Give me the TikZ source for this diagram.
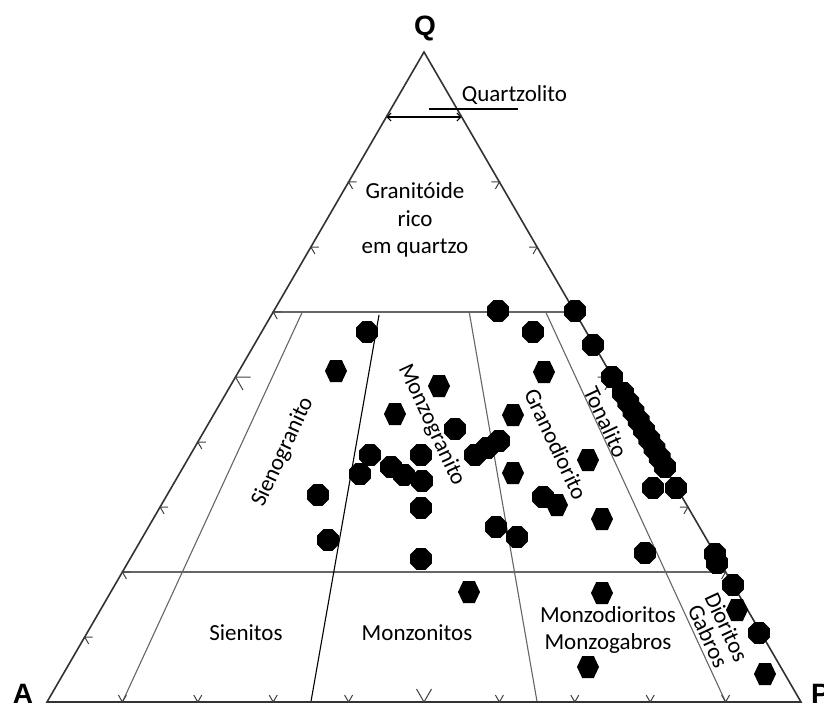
\documentclass[tikz,border=0pt]{standalone}
\usepackage{fontspec}
\setmainfont{Carlito}
\newfontfamily\labfont{Liberation Sans}
\usetikzlibrary{calc,arrows.meta}
\begin{document}
\begin{tikzpicture}[x=1pt,y=-1pt,
  edge/.style={draw=black!80,line width=1.6pt,line join=miter},
  divline/.style={draw=black!60,line width=1.1pt},
  blkline/.style={draw=black,line width=1.1pt},
  tickline/.style={draw=black!75,line width=1pt},
  lbl/.style={inner sep=0pt,font=\fontsize{23}{27}\selectfont},
  rlbl/.style={lbl,align=center,font=\fontsize{23}{20.5}\selectfont},
  vtx/.style={inner sep=0pt,font=\labfont\bfseries\fontsize{28}{28}\selectfont},
  octm/.pic={\fill (22.5:11.7) -- (67.5:11.7) -- (112.5:11.7) -- (157.5:11.7) -- (202.5:11.7) -- (247.5:11.7) -- (292.5:11.7) -- (337.5:11.7) -- cycle;},
  hexm/.pic={\fill (-11,0) -- (-5.8,-11) -- (5.8,-11) -- (11,0) -- (5.8,11) -- (-5.8,11) -- cycle;}
]
\useasboundingbox (0,0) rectangle (824,708);
\fill[white] (0,0) rectangle (824,708);

\coordinate (A) at (47,702);
\coordinate (P) at (801,702);
\coordinate (Q) at (424,52);

% field boundaries
\draw[divline] ($(A)!0.6!(Q)$) -- ($(P)!0.6!(Q)$);
\draw[divline] ($(A)!0.2!(Q)$) -- ($(P)!0.2!(Q)$);
\draw[blkline,{Straight Barb[length=4pt,width=8pt]}-{Straight Barb[length=4pt,width=8pt]}] ($(A)!0.9!(Q)$) -- ($(P)!0.9!(Q)$);
\coordinate (t10) at (302.3,312);  \coordinate (b10) at (122.4,702);
\coordinate (t35) at (378.8,312);  \coordinate (b35) at (310.9,702);
\coordinate (t65) at (469.2,312);  \coordinate (b65) at (537.1,702);
\coordinate (t90) at (545.7,312);  \coordinate (b90) at (725.6,702);
\draw[divline] (t10) -- (b10);
\draw[blkline] (379,315) coordinate (t35b) -- (b35);
\draw[divline] (t65) -- (b65);
\draw[divline] (t90) -- (b90);

% triangle
\draw[edge] (A) -- (Q) -- (P) -- cycle;

% ticks
\foreach \q in {0.1,0.2,0.3,0.4,0.6,0.7,0.8}{
  \draw[tickline] ($(A)!\q!(Q)$) +(8,0) -- +(0,0) -- +(4,6.93);
  \draw[tickline] ($(P)!\q!(Q)$) +(-8,0) -- +(0,0) -- +(-4,6.93);
}
\foreach \r in {0.1,0.2,0.3,0.4,0.6,0.7,0.8,0.9}{
  \draw[tickline] ($(A)!\r!(P)$) +(-4,-6.93) -- +(0,0) -- +(4,-6.93);
}
\draw[tickline] ($(A)!0.5!(Q)$) +(15,0) -- +(0,0) -- +(7.5,13);
\draw[tickline] ($(P)!0.5!(Q)$) +(-15,0) -- +(0,0) -- +(-7.5,13);
\draw[tickline] ($(A)!0.5!(P)$) +(-7.5,-13) -- +(0,0) -- +(7.5,-13);

% vertex labels
\node[vtx,anchor=base] (lQ) at (425,36) {Q};
\node[vtx,anchor=base] (lA) at (23,703) {A};
\node[vtx,anchor=base west] (lP) at (811,703) {P};

% field labels
\node[lbl,anchor=base] (quartzolito) at (514.5,101.5) {Quartzolito};
\coordinate (qz1) at (429,109); \coordinate (qz2) at (518,109);
\draw[line width=1.3pt] (qz1) -- (qz2);
\node[lbl,anchor=base] (gr1) at (415,199) {Granitóide};
\node[lbl,anchor=base] (gr2) at (415,226.5) {rico};
\node[lbl,anchor=base] (gr3) at (415,254) {em quartzo};
\node[lbl,rotate=65] (sieno) at (283,452) {Sienogranito};
\node[lbl,rotate=-65] (monzog) at (431.5,425) {Monzogranito};
\node[lbl,rotate=-65] (granod) at (556,444) {Granodiorito};
\node[lbl,rotate=-65] (tonal) at (606,422) {Tonalito};
\node[lbl,anchor=base] (sienitos) at (246,640.5) {Sienitos};
\node[lbl,anchor=base] (monzonitos) at (417,640.5) {Monzonitos};
\node[lbl,anchor=base] (monzod) at (608,622.5) {Monzodioritos};
\node[lbl,anchor=base] (monzogb) at (608,649.5) {Monzogabros};
\node[rlbl,rotate=-65] (diorgab) at (717.5,631.5) {Dioritos\\Gabros};

% data points
\foreach \x/\y in {498/311,575/311,367/332,533/332,593/345,612/377,455/429,
  499/441,487/448,475/455,370/455,421/455,391/467,404/475,360/474,422/481,
  318/495,653/488,676/488,543/497,421/508,496/527,328/540,517/537,645/553,
  421/559,715/554,717/563,733/585,759/633}{
  \pic at (\x,\y) {octm};
}
\foreach \i in {0,...,8}{
  \pgfmathsetmacro\cx{623+42*\i/8}
  \pgfmathsetmacro\cy{393+74*\i/8}
  \pic at (\cx,\cy) {octm};
}
\foreach \x/\y in {336/371,544/372,439/386,395/414,513/415,588/460,513/473,
  557/505,602/519,469/592,602/593,737/610,588/667,765/674}{
  \pic at (\x,\y) {hexm};
}
\end{tikzpicture}
\end{document}
